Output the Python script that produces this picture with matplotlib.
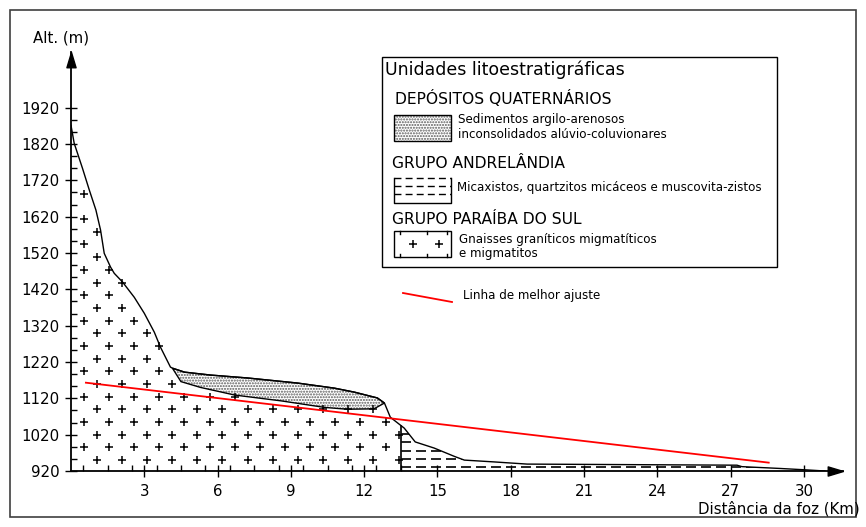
import numpy as np
import matplotlib
matplotlib.use('Agg')
import matplotlib.pyplot as plt
from matplotlib.patches import Polygon, Rectangle
from matplotlib.path import Path

# surface profile: distance from river mouth (km) / altitude (m)
profile_km = [0.0, 0.13, 0.47, 0.75, 1.02, 1.21, 1.36, 1.62, 1.77, 2.11, 2.59, 3.0, 3.41, 3.66, 4.07, 4.15,
              4.65, 5.71, 7.22, 9.27, 10.78, 11.6, 12.54, 12.83, 13.07, 13.64, 14.09, 14.87, 15.7, 16.1,
              17.32, 18.67, 27.26, 27.46, 29.02, 30.12, 30.86]
profile_alt = [1871, 1822, 1753, 1693, 1638, 1583, 1519, 1481, 1464, 1440, 1398, 1354, 1302, 1261, 1206, 1203,
               1192, 1184, 1176, 1162, 1148, 1137, 1121, 1107, 1068, 1038, 1000, 983, 960, 950,
               945, 939, 936, 932, 927, 923, 920]

# base of the quaternary deposit lens
deposit_km = [4.15, 4.5, 5.3, 6.7, 8.6, 10.38, 11.3, 12.4, 12.83]
deposit_alt = [1203, 1166, 1150, 1129, 1113, 1095, 1090, 1091, 1107]

# contact Paraiba do Sul / Andrelandia
contact_km = 13.52
base_alt = 920

# best fit line
fit_km = [0.61, 28.56]
fit_alt = [1163, 943]

xticks = [3, 6, 9, 12, 15, 18, 21, 24, 27, 30]
yticks = [920, 1020, 1120, 1220, 1320, 1420, 1520, 1620, 1720, 1820, 1920]

plt.rcParams['font.family'] = 'DejaVu Sans'

fig = plt.figure(figsize=(8.66, 5.27), dpi=100)
W, H = 866., 527.
ax = fig.add_axes([71 / W, (H - 471) / H, (843 - 71) / W, (471 - 52) / H])
ax.set_facecolor('none')
ax.set_xlim(0, 31.6)
ax.set_ylim(base_alt, 2073)

pk = np.array(profile_km)
pa = np.array(profile_alt)
i0 = profile_km.index(deposit_km[0])
i1 = profile_km.index(deposit_km[-1])
contact_alt = np.interp(contact_km, pk, pa)

# polygons of the three units
dep_poly = list(zip(pk[i0:i1 + 1], pa[i0:i1 + 1])) + list(zip(deposit_km[::-1], deposit_alt[::-1]))
mid = (pk > deposit_km[-1]) & (pk < contact_km)
gn_poly = (list(zip(pk[:i0], pa[:i0])) + list(zip(deposit_km, deposit_alt))
           + list(zip(pk[mid], pa[mid])) + [(contact_km, contact_alt), (contact_km, base_alt), (0, base_alt)])
right = pk > contact_km
and_poly = [(contact_km, contact_alt)] + list(zip(pk[right], pa[right])) + [(contact_km, base_alt)]

# crosses (gnaisses)
path = Path(gn_poly)
cx, cy = [], []
for k, r in enumerate(np.arange(950, 1900, 34.9)):
    xs = np.arange(1.05 if k % 2 == 0 else 0.52, 14, 1.03)
    for x in xs:
        cx.append(x)
        cy.append(r)
pts = np.column_stack([cx, cy])
inside = path.contains_points(pts)
ax.plot(pts[inside, 0], pts[inside, 1], '+', color='k', ms=6, mew=1.1, ls='none')

# stippled deposit (grey dots, black outline)
ax.add_patch(Polygon(dep_poly, closed=True, facecolor='white', edgecolor='#5a5a5a', lw=0, hatch='......'))
ax.add_patch(Polygon(dep_poly, closed=True, fill=False, edgecolor='k', lw=1))

# dashed Andrelandia
and_patch = Polygon(and_poly, closed=True, facecolor='none', edgecolor='none')
ax.add_patch(and_patch)
lc = ax.hlines(np.arange(930, 1040, 23), contact_km, 31, colors='k', lw=1.2, linestyles=[(0, (6, 3))])
lc.set_clip_path(and_patch)

ax.plot(profile_km, profile_alt, color='k', lw=1)
ax.plot([contact_km, contact_km], [base_alt, contact_alt], color='k', lw=1.2)
ax.plot(fit_km, fit_alt, color='red', lw=1.3)

for s in ['top', 'right']:
    ax.spines[s].set_visible(False)
for s in ['left', 'bottom']:
    ax.spines[s].set_linewidth(1.3)

ax.set_xticks(xticks)
ax.set_yticks(yticks)
ax.set_xticks(np.arange(0.5, 13.6, 1.0), minor=True)
ax.set_yticks(np.arange(920, 1921, 100 / 3.), minor=True)
ax.tick_params(which='major', direction='inout', length=8, width=1, labelsize=10.8)
ax.tick_params(axis='x', which='major', pad=5)
ax.tick_params(axis='y', which='major', pad=4)
ax.tick_params(which='minor', direction='in', length=4, width=1)

# arrow heads on the axes
ax.plot([1], [0], transform=ax.transAxes, marker=[(0, 0), (-2, -0.6), (-2, 0.6), (0, 0)],
        ms=22, color='k', clip_on=False)
ax.plot([0], [1], transform=ax.transAxes, marker=[(0, 0), (-0.6, -2), (0.6, -2), (0, 0)],
        ms=22, color='k', clip_on=False)

# overlay in pixel coordinates for frame, labels and legend
ov = fig.add_axes([0, 0, 1, 1])
ov.set_xlim(0, W)
ov.set_ylim(H, 0)
ov.axis('off')

ov.add_patch(Rectangle((10, 10), 846, 507, fill=False, edgecolor='#404040', lw=1.2))
ov.text(61, 38, 'Alt. (m)', ha='center', va='center', fontsize=10.8)
ov.text(860, 509, 'Distância da foz (Km)', ha='right', va='center', fontsize=10.8)

ov.add_patch(Rectangle((382, 57), 395, 210, fill=False, edgecolor='k', lw=1))
ov.text(385, 70, 'Unidades litoestratigráficas', ha='left', va='center', fontsize=12.5)

ov.text(395, 98, 'DEPÓSITOS QUATERNÁRIOS', ha='left', va='center', fontsize=11.2)
ov.add_patch(Rectangle((394, 115), 57, 26, facecolor='white', edgecolor='#5a5a5a', lw=0, hatch='......'))
ov.add_patch(Rectangle((394, 115), 57, 26, fill=False, edgecolor='k', lw=1))
ov.text(458, 119, 'Sedimentos argilo-arenosos', ha='left', va='center', fontsize=8.6)
ov.text(458, 135, 'inconsolidados alúvio-coluvionares', ha='left', va='center', fontsize=8.6)

ov.text(392, 163, 'GRUPO ANDRELÂNDIA', ha='left', va='center', fontsize=11.2)
ov.plot([394, 394, 451, 451], [178, 203, 203, 178], color='k', lw=1)
for yy in [178, 186, 194]:
    ov.plot([394, 451], [yy, yy], color='k', lw=1, ls=(0, (5, 3)))
ov.text(457, 187, 'Micaxistos, quartzitos micáceos e muscovita-zistos', ha='left', va='center', fontsize=8.6)

ov.text(392, 220, 'GRUPO PARAÍBA DO SUL', ha='left', va='center', fontsize=11.2)
ov.add_patch(Rectangle((394, 231), 57, 26, fill=False, edgecolor='k', lw=1))
ov.plot([412.7, 439], [244, 244], '+', color='k', ms=6, mew=1.1)
for xx in [400, 427, 447]:
    ov.plot([xx, xx], [231, 234], color='k', lw=1)
    ov.plot([xx, xx], [254, 257], color='k', lw=1)
ov.text(459, 240, 'Gnaisses graníticos migmatíticos', ha='left', va='center', fontsize=8.6)
ov.text(459, 253, 'e migmatitos', ha='left', va='center', fontsize=8.6)

ov.plot([403, 452], [293, 302], color='red', lw=1.3)
ov.text(463, 296, 'Linha de melhor ajuste', ha='left', va='center', fontsize=8.6)

fig.savefig('out.png', dpi=100)
